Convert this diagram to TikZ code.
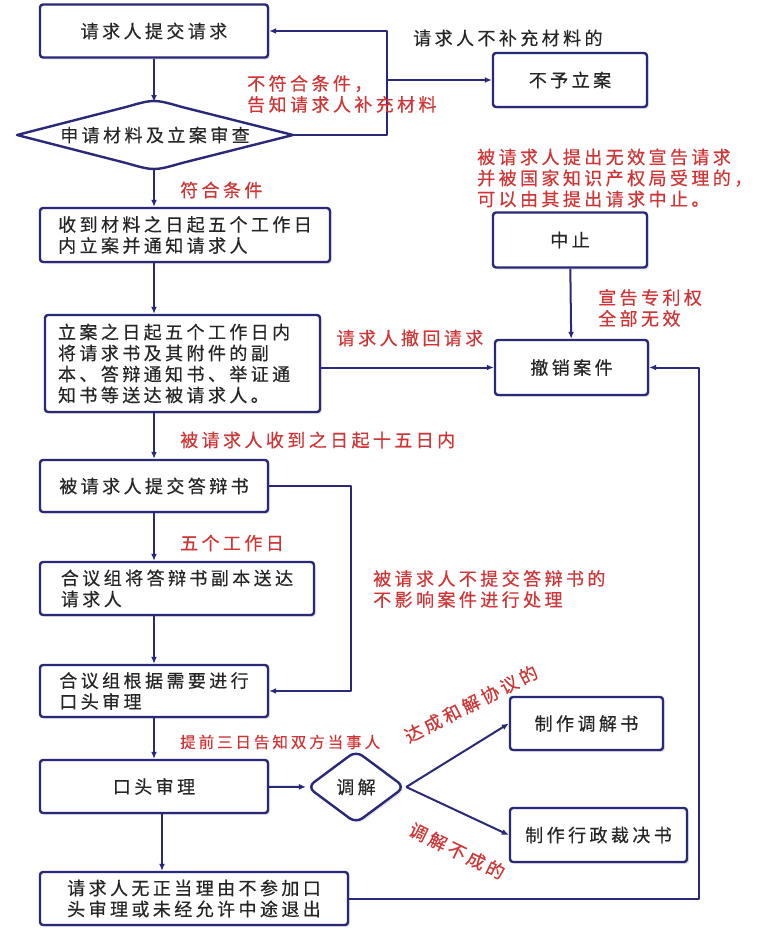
\documentclass[tikz,border=0pt]{standalone}
\usepackage{fontspec}
\newfontfamily\cjk[LetterSpace=19,FakeBold=0.4]{Noto Sans CJK SC}
\usetikzlibrary{arrows.meta,shapes.geometric,shadows}
\definecolor{navy}{RGB}{42,40,120}
\definecolor{redtxt}{RGB}{208,52,52}
\begin{document}
\begin{tikzpicture}[x=1pt,y=-1pt,line join=round,>={Latex[length=7pt,width=6pt]}]
	\tikzset{box/.style={draw=navy,line width=2.4pt,rounded corners=3pt,fill=white,align=left,inner sep=0pt,
			font=\cjk\fontsize{18}{21}\selectfont,text=black!85,
			drop shadow={opacity=.2,shadow xshift=2pt,shadow yshift=-2pt}},
		note/.style={text=redtxt,align=left,inner sep=0pt,font=\cjk\fontsize{18}{21}\selectfont},
		link/.style={draw=navy,line width=2pt}}
	\useasboundingbox (0,0) rectangle (774,932);
	% boxes
	\node[box,minimum width=228pt,minimum height=53pt] (req) at (154,31) {请求人提交请求};
	\node[box,minimum width=154pt,minimum height=54pt] (reject) at (570,80) {不予立案};
	\node[box,minimum width=290pt,minimum height=54pt] (filed) at (185,235) {收到材料之日起五个工作日\\内立案并通知请求人};
	\node[box,minimum width=275pt,minimum height=97pt,text width=249pt] (serve) at (182.5,363.5) {立案之日起五个工作日内\\将请求书及其附件的副\\本、答辩通知书、举证通\\知书等送达被请求人。};
	\node[box,minimum width=154pt,minimum height=55pt] (suspend) at (570,240) {中止};
	\node[box,minimum width=153pt,minimum height=55pt] (withdraw) at (571.5,367.5) {撤销案件};
	\node[box,minimum width=228pt,minimum height=52pt] (reply) at (154,486) {被请求人提交答辩书};
	\node[box,minimum width=274pt,minimum height=53pt] (copy) at (177,588.5) {合议组将答辩书副本送达\\请求人};
	\node[box,minimum width=228pt,minimum height=52pt] (prep) at (154,691) {合议组根据需要进行\\口头审理};
	\node[box,minimum width=228pt,minimum height=53pt] (hearing) at (154,786.5) {口头审理};
	\node[box,diamond,rounded corners=8pt,minimum width=98pt,minimum height=73pt] (mediate) at (356,787) {调解};
	\node[box,minimum width=153pt,minimum height=53pt] (agree) at (586.5,723.5) {制作调解书};
	\node[box,minimum width=177pt,minimum height=54pt] (ruling) at (598.5,835) {制作行政裁决书};
	\node[box,align=center,minimum width=308pt,minimum height=53pt] (absent) at (194,898.5) {请求人无正当理由不参加口\\头审理或未经允许中途退出};
	% review diamond
	\draw[navy,line width=2.4pt,fill=white] (17,135) -- (126,107) .. controls (154,99) .. (182,107) -- (293,135)
		-- (182,163) .. controls (154,171) .. (126,163) -- cycle;
	\node[note,text=black!85] (check) at (155,135) {申请材料及立案审查};
	\coordinate (check-n) at (154,102);
	\coordinate (check-s) at (154,168);
	\coordinate (check-e) at (293,135);
	\coordinate (back) at (387,135);
	% connectors
	\draw[link,->] (req) -- (check-n);
	\draw[link,->] (check-e) -- (back) |- (req.east);
	\draw[link,->] (back |- reject.west) -- (reject.west);
	\draw[link,->] (check-s) -- (check-s |- filed.north);
	\draw[link,->] (filed.south -| req) -- (serve.north -| req);
	\draw[link,->] (serve.east |- withdraw) -- (withdraw.west);
	\draw[link,->] (suspend) -- (withdraw);
	\draw[link,->] (serve.south -| reply) -- (reply);
	\draw[link,->] (reply.east) -- ++(82,0) |- (prep.east);
	\draw[link,->] (reply) -- (reply |- copy.north);
	\draw[link,->] (copy.south -| reply) -- (prep);
	\draw[link,->] (prep) -- (hearing);
	\draw[link,->] (hearing) -- (mediate);
	\draw[link,->] (mediate.east) -- (agree.west);
	\draw[link,->] (mediate.east) -- (ruling.west);
	\draw[link,->] ([xshift=8pt]hearing.south) -- ([xshift=8pt]hearing.south |- absent.north);
	\draw[link,->] (absent.east) -- ++(350,0) |- (withdraw.east);
	% labels
	\node[note,text=black!85,anchor=west] (nofill) at (413,38) {请求人不补充材料的};
	\node[note,anchor=west] (fail) at (247,94) {不符合条件，\\告知请求人补充材料};
	\node[note,anchor=west] (pass) at (180,190) {符合条件};
	\node[note] (retract) at (410,338) {请求人撤回请求};
	\node[note,anchor=west] (invalid) at (598,308) {宣告专利权\\全部无效};
	\node[note,anchor=west] (halt) at (477,178) {被请求人提出无效宣告请求\\并被国家知识产权局受理的，\\可以由其提出请求中止。};
	\node[note,anchor=west] (days15) at (180,440) {被请求人收到之日起十五日内};
	\node[note,anchor=west] (noreply) at (373,589) {被请求人不提交答辩书的\\不影响案件进行处理};
	\node[note,anchor=west] (days5) at (180,543) {五个工作日};
	\node[note,anchor=west,font=\cjk\fontsize{15.5}{18}\selectfont] (days3) at (180,742) {提前三日告知双方当事人};
	\node[note,rotate=27] (deal) at (471,704) {达成和解协议的};
	\node[note,rotate=-26] (nodeal) at (457,851) {调解不成的};
\end{tikzpicture}
\end{document}
